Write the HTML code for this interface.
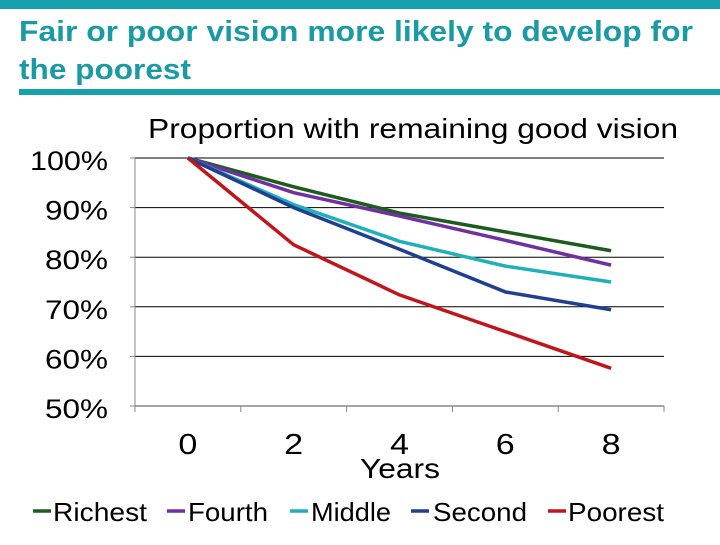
<!DOCTYPE html>
<html><head><meta charset="utf-8"><style>
body{margin:0;width:720px;height:540px;background:#fff;overflow:hidden;font-family:"Liberation Sans",sans-serif}
</style></head><body>
<svg width="720" height="540">
<rect x="0" y="0" width="720" height="9" fill="#16a0ab"/>
<text x="19" y="41" font-size="29" font-weight="bold" fill="#1a9aa5" textLength="674" lengthAdjust="spacingAndGlyphs">Fair or poor vision more likely to develop for</text>
<text x="19" y="79" font-size="29" font-weight="bold" fill="#1a9aa5" textLength="172" lengthAdjust="spacingAndGlyphs">the poorest</text>
<rect x="19" y="89" width="701" height="6" fill="#16a0ab"/>
<text x="148" y="138" font-size="28" fill="#000" textLength="530" lengthAdjust="spacingAndGlyphs">Proportion with remaining good vision</text>
<g id="grid"></g><g id="axes"></g><g id="series"></g>
<text x="360" y="478" font-size="28" textLength="80" lengthAdjust="spacingAndGlyphs">Years</text>
<g id="legend"></g>
</svg>
<script>
const categories=[0,2,4,6,8];
const yTicks=[50,60,70,80,90,100];
const seriesNames=["Richest","Fourth","Middle","Second","Poorest"];
const richest=[100,94.2,88.9,85.1,81.3];
const fourth=[100,93,88.3,83.4,78.4];
const middle=[100,90.6,83.2,78.2,75];
const second=[100,90,81.6,73,69.4];
const poorest=[100,82.5,72.4,65,57.6];
const colors=["#1d5c1d","#7030a0","#1fb0b8","#1f3f90","#c0161b"];
const NS="http://www.w3.org/2000/svg";
const x0=135,x1=664,y0=406,y1=158;
const xs=i=>x0+(i+0.5)*(x1-x0)/categories.length;
const ys=v=>y0-(v-50)/50*(y0-y1);
function mk(t,a,p){const e=document.createElementNS(NS,t);for(const k in a)e.setAttribute(k,a[k]);p.appendChild(e);return e;}
const g=document.getElementById('grid'),ax=document.getElementById('axes'),se=document.getElementById('series'),lg=document.getElementById('legend');
yTicks.forEach(v=>{
 const l=mk('line',{x1:x0,x2:x1,y1:ys(v),y2:ys(v),stroke:v==50?'#888':'#000','stroke-width':v==50?1.5:1},g);
 
 
 const lab=v+'%';
 const t=mk('text',{x:108,y:ys(v)+12,'text-anchor':'end','font-size':27,textLength:lab.length==4?78:63,lengthAdjust:'spacingAndGlyphs'},ax);t.textContent=lab;
 
 
 mk('line',{x1:x0-5,x2:x0,y1:ys(v),y2:ys(v),stroke:'#888'},ax);
});
mk('line',{x1:x0,x2:x0,y1:y1,y2:y0,stroke:'#888'},ax);
for(let i=0;i<=categories.length;i++){const xx=x0+i*(x1-x0)/categories.length;mk('line',{x1:xx,x2:xx,y1:y0,y2:y0+6,stroke:'#888'},ax);}
categories.forEach((c,i)=>{const t=mk('text',{x:xs(i),y:454,'text-anchor':'middle','font-size':29,textLength:19,lengthAdjust:'spacingAndGlyphs'},ax);t.textContent=c;
 
 });
[richest,fourth,middle,second,poorest].forEach((d,s)=>{
 const p=mk('polyline',{points:d.map((v,i)=>xs(i)+','+ys(v)).join(' '),fill:'none',stroke:colors[s],'stroke-width':3.5},se);
 
 
});
const lx=[33,167,290,411,548];
const lt=[53,188,311,433,568];
const lw=[94,80,80,94,96];
seriesNames.forEach((n,s)=>{
 const l=mk('line',{x1:lx[s],x2:lx[s]+18,y1:511,y2:511,stroke:colors[s],'stroke-width':3.5},lg);
 
 
 const t=mk('text',{x:lt[s],y:521,'font-size':26,textLength:lw[s],lengthAdjust:'spacingAndGlyphs'},lg);t.textContent=n;
 
 
});
</script>
</body></html>
